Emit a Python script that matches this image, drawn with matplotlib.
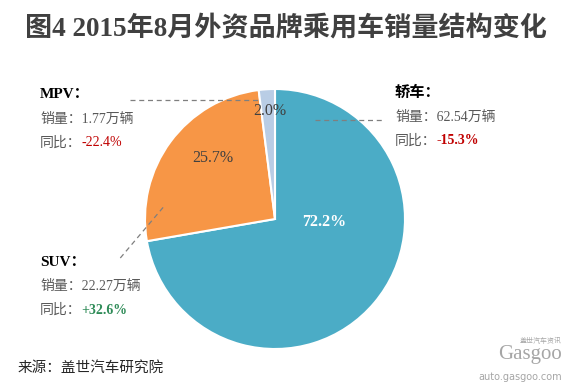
import matplotlib
matplotlib.use("Agg")
import matplotlib.pyplot as plt

# ---- data ----
categories = ["轿车", "SUV", "MPV"]
shares = [72.2, 25.7, 2.0]
sales = ["62.54", "22.27", "1.77"]
yoy = ["-15.3%", "+32.6%", "-22.4%"]
title = "图4 2015年8月外资品牌乘用车销量结构变化"
source = "来源：盖世汽车研究院"

colors = ["#4bacc6", "#f79646", "#b9cde5"]
FAM = ["Liberation Serif", "Noto Sans CJK SC", "DejaVu Sans"]
plt.rcParams["font.family"] = FAM

W, H = 572, 389
fig = plt.figure(figsize=(W / 100, H / 100), dpi=100)
fig.patch.set_facecolor("white")

def fx(x):
    return x / W

def fy(y):
    return 1 - y / H

# pie axes: center (275,219) radius 130 px
cx, cy, r = 275, 219, 130
ax = fig.add_axes([fx(cx - r), fy(cy + r), 2 * r / W, 2 * r / H])
wedges, texts, autotexts = ax.pie(
    shares, colors=colors, startangle=90, counterclock=False,
    autopct="%.1f%%", pctdistance=0.6,
    wedgeprops=dict(edgecolor="white", linewidth=1.5),
)
ax.set_xlim(-1, 1)
ax.set_ylim(-1, 1)
ax.set_aspect("equal")
ax.axis("off")

label_pos = [(0.38, -0.02), (-0.48, 0.47), (-0.04, 0.83)]
label_col = ["white", "#404040", "#404040"]
label_w = ["bold", "normal", "normal"]
for t, v, p, c, w in zip(autotexts, shares, label_pos, label_col, label_w):
    t.set_text(f"{v:.1f}%")
    t.set_position(p)
    t.set_color(c)
    t.set_fontweight(w)
    t.set_fontsize(11.5)
    t.set_ha("center")
    t.set_va("center")

# leader lines (dashed)
lk = dict(color="#7f7f7f", linestyle=(0, (4, 3)), linewidth=0.9, clip_on=False)
ax.plot([-1.115, -0.13], [0.915, 0.915], **lk)
ax.plot([0.31, 0.83], [0.76, 0.76], **lk)
ax.plot([-1.19, -0.86], [-0.30, 0.09], **lk)

# title
fig.text(fx(286), fy(29), title, ha="center", va="center", fontsize=19.5,
         fontweight="bold", color="#404040")

# callouts
def callout(x, y0, name, sale, change, ccol, cbold):
    fig.text(fx(x), fy(y0), name + "：", ha="left", va="center", fontsize=11,
             fontweight="bold", color="black")
    fig.text(fx(x), fy(y0 + 24), "销量：" + sale + "万辆", ha="left", va="center",
             fontsize=10, color="#595959")
    t = fig.text(fx(x), fy(y0 + 48), "同比：", ha="left", va="center",
                 fontsize=10, color="#595959")
    ax.annotate(change, xy=(1, 0.5), xycoords=t, ha="left", va="center",
                fontsize=10, color=ccol,
                fontweight="bold" if cbold else "normal")

callout(395, 93, categories[0], sales[0], yoy[0], "#c00000", True)
callout(40, 95, categories[2], sales[2], yoy[2], "#c00000", False)
callout(40, 262, categories[1], sales[1], yoy[1], "#2e8b57", True)

# source
fig.text(fx(18), fy(368), source, ha="left", va="center", fontsize=10.5,
         style="italic", color="#262626")

# logo-like text
fig.text(fx(562), fy(355), "Gasgoo", ha="right", va="center", fontsize=15,
         color="#a6a6a6")
fig.text(fx(562), fy(340), "盖世汽车资讯", ha="right", va="center", fontsize=5,
         color="#a6a6a6")
fig.text(fx(562), fy(377), "auto.gasgoo.com", ha="right", va="center",
         fontsize=7, color="#a6a6a6", family="DejaVu Sans")

fig.savefig("out.png", dpi=100, facecolor="white")
